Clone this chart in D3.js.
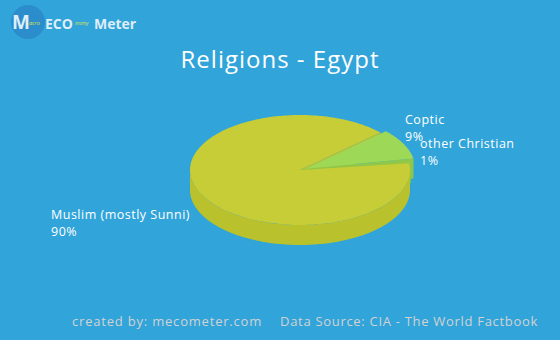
<!DOCTYPE html>
<html>
<head>
<meta charset="utf-8">
<script src="https://cdnjs.cloudflare.com/ajax/libs/d3/7.8.5/d3.min.js"></script>
<style>
  body { margin: 0; background: #31a4da; }
  svg { display: block; }
</style>
</head>
<body>
<div class="chart"></div>
<script>
//Chart data
var categories = ["Muslim (mostly Sunni)", "Coptic", "other Christian"];
var values = [90, 9, 1];
var valueLabels = ["90%", "9%", "1%"];
var title = "Religions - Egypt";

var width = 560, height = 340;
var cx = 300, cy = 170, rx = 110, ry = 55, depth = 20;
var offset = 7 * Math.PI / 180;
var topColors = ["#c6cd36", "#9dd957", "#6bde6c"];
var sideColors = ["#b9c12d", "#8fc74a", "#5cc95e"];
var explode = [0, 6, 2];

var svg = d3.select(".chart")
    .append("svg")
    .attr("width", width)
    .attr("height", height)
    .style("font-family", "'Open Sans', sans-serif");

svg.append("rect")
    .attr("width", width)
    .attr("height", height)
    .attr("fill", "#31a4da");

//Logo
var logo = svg.append("g");
logo.append("circle").attr("cx", 28).attr("cy", 22).attr("r", 17).attr("fill", "#2b8dcb");
logo.append("text").attr("x", 12).attr("y", 29).attr("fill", "#dfeef8")
    .style("font-size", "19px").style("font-weight", "bold").text("M");
logo.append("text").attr("x", 29).attr("y", 25).attr("fill", "#d7e34a")
    .style("font-size", "5.5px").style("font-style", "italic").text("acro");
logo.append("text").attr("x", 45).attr("y", 29).attr("fill", "#dfeef8")
    .style("font-size", "14px").style("font-weight", "bold").text("ECO");
logo.append("text").attr("x", 75).attr("y", 25).attr("fill", "#d7e34a")
    .style("font-size", "5.5px").style("font-style", "italic").text("nomy");
logo.append("text").attr("x", 94).attr("y", 29).attr("fill", "#dfeef8")
    .style("font-size", "14px").style("font-weight", "bold").text("Meter");

//Title
svg.append("text")
    .attr("x", 280)
    .attr("y", 68)
    .attr("text-anchor", "middle")
    .attr("fill", "#ffffff")
    .style("font-size", "24px")
    .style("letter-spacing", "1px")
    .text(title);

//Pie angles (clockwise from the right)
var pie = d3.pie().sort(null).startAngle(0).endAngle(2 * Math.PI);
var slices = pie(values).map(function(d, i) {
    var a1 = offset - d.startAngle, a2 = offset - d.endAngle;
    var mid = (a1 + a2) / 2;
    return {
        i: i,
        a1: a1,
        a2: a2,
        dx: explode[i] * Math.cos(mid),
        dy: -explode[i] * Math.sin(mid) * ry / rx
    };
});

function rim(s, a, dz) {
    return [cx + s.dx + rx * Math.cos(a), cy + s.dy - ry * Math.sin(a) + dz];
}

function arcPoints(s, from, to, dz) {
    var pts = [];
    var n = Math.max(2, Math.ceil(Math.abs(to - from) / 0.02));
    for (var k = 0; k <= n; ++k) pts.push(rim(s, from + (to - from) * k / n, dz));
    return pts;
}

var line = d3.line();

function radialWalls(s) {
    //only faces turned to the viewer
    [[s.a1, Math.cos(s.a1) < 0], [s.a2, Math.cos(s.a2) > 0]].forEach(function(f) {
        if (!f[1]) return;
        var c = [cx + s.dx, cy + s.dy];
        var p = rim(s, f[0], 0);
        svg.append("path")
            .attr("d", line([c, p, [p[0], p[1] + depth], [c[0], c[1] + depth]]) + "Z")
            .attr("fill", sideColors[s.i]);
    });
}

function outerWall(s) {
    //front half only: angles in [-PI, 0] (and the same shifted by 2PI)
    [-2 * Math.PI, 0, 2 * Math.PI].forEach(function(k) {
        var hi = Math.min(s.a1, k), lo = Math.max(s.a2, k - Math.PI);
        if (hi <= lo) return;
        var top = arcPoints(s, hi, lo, 0);
        var bottom = arcPoints(s, lo, hi, depth);
        svg.append("path")
            .attr("d", line(top.concat(bottom)) + "Z")
            .attr("fill", sideColors[s.i]);
    });
}

function topFace(s) {
    var pts = [[cx + s.dx, cy + s.dy]].concat(arcPoints(s, s.a1, s.a2, 0));
    svg.append("path")
        .attr("d", line(pts) + "Z")
        .attr("fill", topColors[s.i]);
}

//Big slice side face behind, then small back slices, then big slice front
radialWalls(slices[0]);
[slices[2], slices[1]].forEach(function(s) {
    radialWalls(s);
    outerWall(s);
    topFace(s);
});
outerWall(slices[0]);
topFace(slices[0]);

//Labels
var labelPos = [[51, 219], [405, 124], [420, 148]];
categories.forEach(function(c, i) {
    var t = svg.append("text")
        .attr("x", labelPos[i][0])
        .attr("y", labelPos[i][1])
        .attr("fill", "#ffffff")
        .style("font-size", "12.5px")
        .style("letter-spacing", "0.5px");
    t.append("tspan").text(c);
    t.append("tspan").attr("x", labelPos[i][0]).attr("dy", 17).text(valueLabels[i]);
});

//Footer
svg.append("text").attr("x", 72).attr("y", 326).attr("fill", "#d2d2d2")
    .style("font-size", "13px").style("letter-spacing", "0.8px")
    .text("created by: mecometer.com");
svg.append("text").attr("x", 280).attr("y", 326).attr("fill", "#d2d2d2")
    .style("font-size", "13px").style("letter-spacing", "0.7px")
    .text("Data Source: CIA - The World Factbook");
</script>
</body>
</html>
